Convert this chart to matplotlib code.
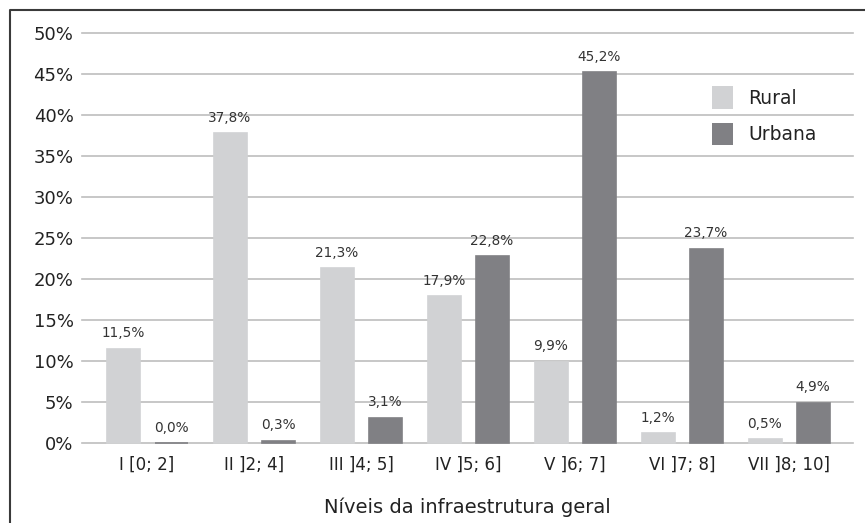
import matplotlib
matplotlib.use("Agg")
import matplotlib.pyplot as plt
from matplotlib.lines import Line2D
from matplotlib.patches import Patch
import numpy as np

categories = ["I [0; 2]", "II ]2; 4]", "III ]4; 5]", "IV ]5; 6]", "V ]6; 7]", "VI ]7; 8]", "VII ]8; 10]"]
rural = [11.5, 37.8, 21.3, 17.9, 9.9, 1.2, 0.5]
urbana = [0.0, 0.3, 3.1, 22.8, 45.2, 23.7, 4.9]
yticks = [0, 5, 10, 15, 20, 25, 30, 35, 40, 45, 50]

plt.rcParams['font.family'] = ['DejaVu Sans']

W, H = 865, 523
fig = plt.figure(figsize=(W / 100, H / 100), dpi=100)
ax = fig.add_axes([82 / W, 1 - 443 / H, (853 - 82) / W, (443 - 33) / H])

c_rural = "#d1d2d4"
c_urb = "#808084"
x = np.arange(len(categories))
off = 24 / 107
bw = 33 / 107

b1 = ax.bar(x - off, rural, bw, color=c_rural, edgecolor=c_rural, linewidth=1.2, zorder=3, clip_on=False)
b2 = ax.bar(x + off, urbana, bw, color=c_urb, edgecolor=c_urb, linewidth=1.2, zorder=3, clip_on=False)

for bars, vals in ((b1, rural), (b2, urbana)):
    for r, v in zip(bars, vals):
        ax.annotate(f"{v:.1f}%".replace(".", ","), (r.get_x() + r.get_width() / 2, v),
                    xytext=(0, 6), textcoords="offset points", ha="center", va="bottom",
                    fontsize=9.8, color="#333333")

ax.set_xlim(-65 / 107, 6 + 64 / 107)
ax.set_ylim(0, 50)
ax.set_yticks(yticks)
ax.set_yticklabels([f"{t}%" for t in yticks], fontsize=13, color="#222222")
ax.set_xticks(x)
ax.set_xticklabels(categories, fontsize=12, color="#222222")
ax.tick_params(axis="both", length=0)
ax.tick_params(axis="y", pad=6)
ax.tick_params(axis="x", pad=9)
ax.grid(axis="y", color="#bdbdbd", linewidth=1.2, zorder=0)
for gl in ax.get_ygridlines():
    gl.set_clip_on(False)
ax.set_axisbelow(True)
for s in ax.spines.values():
    s.set_visible(False)
ax.set_xlabel("Níveis da infraestrutura geral", fontsize=14, color="#222222", labelpad=17)

handles = [Patch(facecolor=c_rural, label="Rural"), Patch(facecolor=c_urb, label="Urbana")]
leg = fig.legend(handles=handles, loc="upper left", bbox_to_anchor=(704 / W, 1 - 79 / H),
                 frameon=False, fontsize=13.5, handlelength=1.17, handleheight=1.43,
                 handletextpad=0.8, labelspacing=0.75, borderaxespad=0)
for t in leg.get_texts():
    t.set_color("#222222")

fig.add_artist(Line2D([9.5 / W, 9.5 / W, 1.0], [0.0, 1 - 9.5 / H, 1 - 9.5 / H],
                      transform=fig.transFigure, color="#3a3a3a", linewidth=1.5))

fig.savefig("out.png", dpi=100)
